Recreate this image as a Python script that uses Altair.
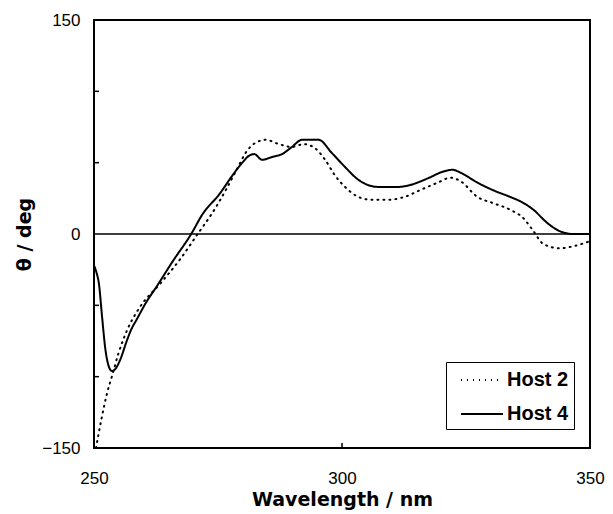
import altair as alt
import pandas as pd

# Host 2 (dotted)
x_host2 = [250.4, 251.6, 252.6, 253.6, 254.9, 256.6, 259.3, 263.3, 267.3, 270.9,
           273.9, 276.6, 278.9, 280.6, 282.6, 284.6, 287.3, 289.9, 292.3, 294.6,
           296.6, 298.6, 300.6, 303.3, 305.9, 309.3, 312.6, 315.9, 319.3, 321.9,
           323.9, 327.3, 330.6, 333.9, 336.6, 338.6, 340.6, 343.9, 347.3, 350.0]
y_host2 = [-150, -128, -112, -100, -84, -68, -51, -35, -18, 0,
           15, 31, 46, 57, 64, 66, 63, 61, 63, 60,
           52, 41, 33, 26, 24, 24, 26, 31, 36, 39.5,
           37, 26, 21.5, 17, 11, 2, -7, -10, -8, -5]

# Host 4 (solid)
x_host4 = [250.0, 250.5, 251.0, 251.6, 252.3, 253.0, 253.6, 254.2, 255.3, 256.6,
           257.5, 258.6, 260.5, 262.6, 265.9, 269.6, 271.9, 275.3, 277.9, 279.9,
           281.3, 282.3, 283.9, 285.9, 287.9, 289.9, 291.9, 292.8, 295.3, 297.9,
           300.6, 303.3, 307.3, 311.3, 313.9, 317.3, 320.6, 322.3, 323.9, 327.3,
           330.6, 333.9, 335.9, 338.6, 341.3, 343.9, 346.6, 350.0]
y_host4 = [-22, -27, -35, -57, -81, -93, -96, -95, -88, -75,
           -67, -60, -48, -37, -19, 0, 14, 28, 41, 50,
           55, 56, 52, 54, 56, 61, 66, 66, 66, 57,
           47, 38, 33, 33, 34.5, 39, 44, 45, 43, 36,
           30.5, 26, 23, 17, 8, 2, 0, 0]

series_names = ["Host 2", "Host 4"]
y_tick_values = [-100, -50, 50, 100]
x_tick_values = [300]
x_label_values = [250, 300, 350]
y_label_values = [-150, 0, 150]

rows = []
for name, xs, ys in [("Host 2", x_host2, y_host2), ("Host 4", x_host4, y_host4)]:
    for i, (a, b) in enumerate(zip(xs, ys)):
        rows.append({"wl": a, "theta": b, "series": name, "order": i})
df = pd.DataFrame(rows)

xscale = alt.Scale(domain=[250, 350], nice=False, zero=False)
yscale = alt.Scale(domain=[-150, 150], nice=False, zero=False)

lines = alt.Chart(df).mark_line(color="black", strokeWidth=2, strokeCap="round",
                                interpolate="monotone", clip=True).encode(
    x=alt.X("wl:Q", scale=xscale,
            axis=alt.Axis(title="Wavelength / nm", values=x_label_values, format="d",
                          ticks=False, tickSize=0, domain=False, grid=False,
                          labelFlush=False,
                          labelFontSize=17, labelPadding=22, labelColor="black",
                          titleFontSize=19, titleFontWeight="bold", titlePadding=4,
                          titleColor="black", labelFont="Liberation Sans",
                          titleFont="DejaVu Sans")),
    y=alt.Y("theta:Q", scale=yscale,
            axis=alt.Axis(title="θ / deg", values=y_label_values, format="d",
                          ticks=False, tickSize=0, domain=False, grid=False,
                          labelFlush=False,
                          labelFontSize=17, labelPadding=14, labelColor="black",
                          titleFontSize=19, titleFontWeight="bold", titlePadding=7,
                          titleColor="black", labelFont="Liberation Sans",
                          titleFont="DejaVu Sans")),
    strokeDash=alt.StrokeDash("series:N",
                              scale=alt.Scale(domain=series_names, range=[[1, 5], [1, 0]]),
                              legend=alt.Legend(title=None, orient="none", legendX=352, legendY=342,
                                                symbolType="M-0.25,0H3.25", symbolSize=576,
                                                symbolStrokeWidth=2, symbolStrokeColor="black",
                                                labelFontSize=20, labelFontWeight="bold",
                                                labelFont="Liberation Sans", labelColor="black",
                                                labelOffset=30, rowPadding=11,
                                                strokeColor="black", fillColor="white",
                                                padding=5, cornerRadius=0)),
    order="order:Q",
)

zero = alt.Chart(pd.DataFrame({"z": [0]})).mark_rule(color="black", strokeWidth=1.5).encode(
    y=alt.Y("z:Q", scale=yscale)
)

yticks = alt.Chart(pd.DataFrame({"z": y_tick_values})).mark_rule(color="black", strokeWidth=1.5).encode(
    y=alt.Y("z:Q", scale=yscale),
    x=alt.value(0), x2=alt.value(5),
)

xticks = alt.Chart(pd.DataFrame({"w": x_tick_values})).mark_rule(color="black", strokeWidth=1.5).encode(
    x=alt.X("w:Q", scale=xscale),
    y=alt.value(428), y2=alt.value(423),
)

chart = alt.layer(lines, zero, yticks, xticks).properties(
    width=496, height=428,
    autosize=alt.AutoSizeParams(type="none"),
    padding={"left": 86, "top": 12, "right": 15, "bottom": 66},
    background="white",
).configure_view(stroke="black", strokeWidth=2)

chart.save("out.html", embed_options={"renderer": "svg", "actions": False})
